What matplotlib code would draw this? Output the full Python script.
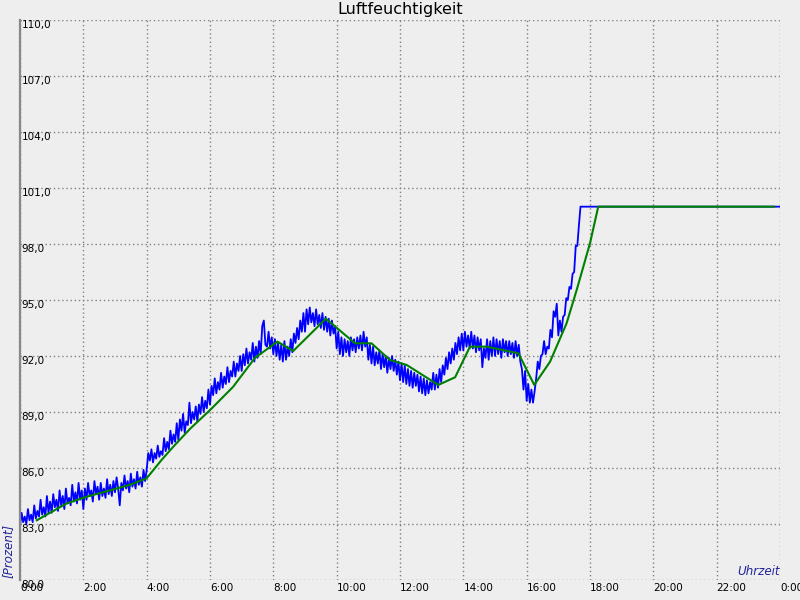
import numpy as np
import matplotlib.pyplot as plt

# --- Data ---
# blue: raw humidity, one reading every 3 minutes from 0:00 to 17:42, then held at 100 until midnight
blue_vals = [
    # 0:00
    82.9, 83.6, 83.1, 83.4, 83.0, 83.8, 83.2, 83.5, 83.1, 84.0, 83.3, 83.7, 83.4, 84.3, 83.5, 83.9, 83.4, 84.5, 83.6, 84.2,
    # 1:00
    83.6, 84.6, 83.9, 84.3, 83.7, 84.8, 84.0, 84.5, 83.8, 84.9, 84.1, 84.4, 84.0, 85.1, 84.2, 84.7, 84.1, 85.2, 84.3, 84.8,
    # 2:00
    83.8, 84.9, 84.3, 85.2, 84.5, 84.8, 84.2, 85.3, 84.6, 85.0, 84.3, 85.2, 84.5, 84.9, 84.4, 85.4, 84.6, 85.1, 84.5, 85.3,
    # 3:00
    84.7, 85.5, 84.9, 84.0, 85.2, 84.8, 85.6, 84.9, 85.3, 84.7, 85.7, 85.0, 85.4, 84.9, 85.8, 85.1, 85.5, 85.0, 85.9, 85.3,
    # 4:00
    85.9, 86.8, 86.4, 87.0, 86.3, 86.8, 86.5, 87.2, 86.6, 86.9, 86.7, 87.6, 86.9, 87.4, 87.0, 88.0, 87.3, 87.8, 87.4, 88.4,
    # 5:00
    87.5, 88.6, 88.0, 88.9, 87.9, 88.5, 88.3, 89.5, 88.4, 89.0, 88.6, 89.3, 88.5, 89.4, 88.9, 89.8, 89.0, 89.6, 89.2, 90.2,
    # 6:00
    89.4, 90.4, 89.9, 90.8, 90.0, 90.6, 90.2, 91.1, 90.3, 90.9, 90.5, 91.4, 90.6, 91.2, 90.9, 91.7, 90.9, 91.6, 91.2, 92.0,
    # 7:00
    91.2, 92.1, 91.5, 92.4, 91.6, 92.2, 91.8, 92.7, 91.7, 92.5, 91.9, 92.8, 92.1, 93.6, 93.9, 92.6, 92.5, 93.3, 92.4, 93.0,
    # 8:00
    92.1, 92.9, 92.0, 92.7, 91.8, 92.6, 91.7, 92.8, 91.8, 92.5, 92.0, 92.9, 92.2, 93.2, 92.7, 93.5, 92.9, 93.9, 93.3, 94.3,
    # 9:00
    93.3, 94.5, 93.7, 94.6, 93.8, 94.3, 93.6, 94.5, 93.7, 94.2, 93.5, 94.3, 93.4, 94.1, 93.3, 94.0, 93.1, 93.9, 93.2, 93.6,
    # 10:00
    92.4, 93.3, 92.1, 93.0, 92.0, 92.9, 92.2, 92.8, 92.0, 93.0, 92.3, 92.9, 92.2, 93.0, 92.4, 93.1, 92.3, 93.3, 92.5, 93.0,
    # 11:00
    91.8, 92.6, 91.6, 92.5, 91.5, 92.2, 91.6, 92.3, 91.3, 92.1, 91.4, 92.0, 91.1, 91.9, 91.3, 92.0, 91.2, 91.8, 91.0, 91.7,
    # 12:00
    90.7, 91.6, 90.6, 91.5, 90.5, 91.3, 90.4, 91.2, 90.3, 91.1, 90.4, 91.0, 90.1, 90.9, 90.0, 90.8, 89.9, 90.7, 90.0, 90.6,
    # 13:00
    90.2, 91.1, 90.2, 91.0, 90.3, 91.3, 90.6, 91.5, 91.0, 91.9, 91.3, 92.2, 91.6, 92.4, 91.8, 92.7, 92.1, 93.0, 92.3, 93.2,
    # 14:00
    92.3, 93.3, 92.5, 93.1, 92.4, 93.3, 92.4, 93.1, 92.2, 93.0, 92.3, 92.9, 91.4, 92.4, 91.9, 92.9, 91.8, 92.8, 92.0, 93.0,
    # 15:00
    92.0, 92.9, 92.1, 92.8, 91.9, 92.9, 92.2, 92.8, 92.0, 92.8, 92.1, 92.7, 91.9, 92.8, 92.0, 92.6, 91.7, 91.3, 90.2, 91.2,
    # 16:00
    89.6, 90.5, 89.5, 90.2, 89.5, 90.1, 90.8, 91.7, 91.3, 92.0, 92.1, 92.8, 92.1, 92.5, 92.4, 93.4, 93.0, 94.4, 94.1, 94.8,
    # 17:00
    93.1, 93.9, 93.3, 94.1, 94.2, 95.1, 95.0, 95.7, 95.6, 96.4, 96.5, 97.9, 97.9, 99.0, 100.0,
    # 24:00
    100.0,
]
blue_hours = list(np.arange(len(blue_vals) - 1) * 0.05) + [24.0]

# green: smoothed curve
green_hours = [0.53, 1.47, 2.1, 2.84, 3.47, 4.0, 4.47, 4.84, 5.37, 6.0, 6.73, 7.42, 8.13, 8.63,
               9.66, 10.58, 11.1, 11.68, 12.21, 13.21, 13.74, 14.21, 14.74, 15.74,
               16.24, 16.74, 17.26, 17.58, 18.0, 18.26, 23.81]
green_vals = [83.2, 84.1, 84.46, 84.8, 85.1, 85.45, 86.43, 87.14, 88.1, 89.1, 90.35, 91.9, 92.77, 92.27,
              94.0, 92.68, 92.68, 91.79, 91.52, 90.45, 90.86, 92.5, 92.5, 92.14,
              90.45, 91.7, 93.75, 95.54, 98.04, 100.0, 100.0]

y_ticks = [80, 83, 86, 89, 92, 95, 98, 101, 104, 107, 110]
x_ticks = list(range(0, 25, 2))
x_labels = [f"{h % 24}:00" for h in x_ticks]

# --- Plotting ---
bg = "#eeeeee"
fig = plt.figure(figsize=(8, 6), dpi=100, facecolor=bg)
ax = fig.add_axes([0.025, 20 / 600, 0.95, 560 / 600], facecolor=bg)

ax.plot(blue_hours, blue_vals, color="#0000ff", lw=1.3)
ax.plot(green_hours, green_vals, color="#008000", lw=1.5)

ax.set_xlim(0, 24)
ax.set_ylim(80, 110)
ax.set_xticks(x_ticks)
ax.set_xticklabels(x_labels, ha="left")
ax.set_yticks(y_ticks)
ax.set_yticklabels([f"{v},0" for v in y_ticks], ha="left", va="top")
ax.tick_params(axis="x", length=0, pad=2, labelsize=7.5)
ax.tick_params(axis="y", length=0, pad=-1, labelsize=7.5)

ax.grid(True, color="#808080", linestyle=(0, (1, 2)), lw=1)
for side in ["top", "right", "bottom"]:
    ax.spines[side].set_visible(False)
ax.spines["left"].set_color("#888888")
ax.spines["left"].set_linewidth(1.6)

ax.set_title("Luftfeuchtigkeit", fontsize=11.5, pad=4)
ax.text(1.0, 0.004, "Uhrzeit", transform=ax.transAxes, ha="right", va="bottom",
        fontsize=8.6, style="italic", color="#24249a")
fig.text(8 / 800, 22 / 600, "[Prozent]", rotation=90, ha="center", va="bottom",
         fontsize=8.6, style="italic", color="#24249a")

plt.savefig("out.png", dpi=100, facecolor=bg)
